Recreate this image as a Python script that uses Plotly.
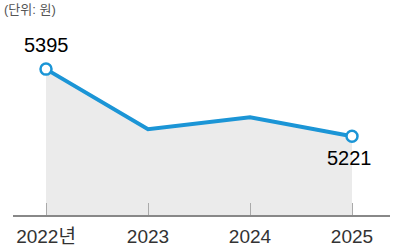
import plotly.graph_objects as go

years = ["2022년", "2023", "2024", "2025"]
prices = [5395, 5239, 5270, 5221]
unit_label = "(단위: 원)"

FONT = "Liberation Sans, Arial, Noto Sans CJK KR, sans-serif"
BLUE = "#1b95d6"

xs = list(range(len(years)))

fig = go.Figure()
fig.add_trace(go.Scatter(
    x=xs, y=prices, mode="lines",
    line=dict(color=BLUE, width=4),
    fill="tozeroy", fillcolor="#ebebeb",
    hoverinfo="skip", showlegend=False,
))
fig.add_trace(go.Scatter(
    x=[xs[0], xs[-1]], y=[prices[0], prices[-1]], mode="markers",
    marker=dict(size=11, color="white", line=dict(color=BLUE, width=2.5)),
    hoverinfo="skip", showlegend=False,
))

fig.add_annotation(x=xs[0], y=prices[0], text=str(prices[0]), showarrow=False,
                   yshift=24, font=dict(family=FONT, size=20, color="#000"))
fig.add_annotation(x=xs[-1], y=prices[-1], text=str(prices[-1]), showarrow=False,
                   yshift=-22, xshift=-3, font=dict(family=FONT, size=20, color="#000"))
fig.add_annotation(x=0.005, y=1.0, xref="paper", yref="paper", text=unit_label,
                   showarrow=False, xanchor="left", yanchor="top",
                   font=dict(family=FONT, size=13, color="#555"))

fig.update_layout(
    width=400, height=250,
    margin=dict(l=0, r=0, t=0, b=0),
    paper_bgcolor="white", plot_bgcolor="white",
    xaxis=dict(
        domain=[13/400, 390/400],
        range=[-0.3235, 3.3725],
        tickmode="array", tickvals=xs, ticktext=years,
        ticks="inside", ticklen=12, tickcolor="#aaa", tickwidth=1,
        ticklabelstandoff=3,
        showline=True, linecolor="#888", linewidth=2,
        showgrid=False, zeroline=False,
        tickfont=dict(family=FONT, size=19, color="#333"),
    ),
    yaxis=dict(
        domain=[0.14, 1.0],
        range=[5016.8, 5574.2],
        visible=False, showgrid=False, zeroline=False,
    ),
)

fig.write_html("out.html")
